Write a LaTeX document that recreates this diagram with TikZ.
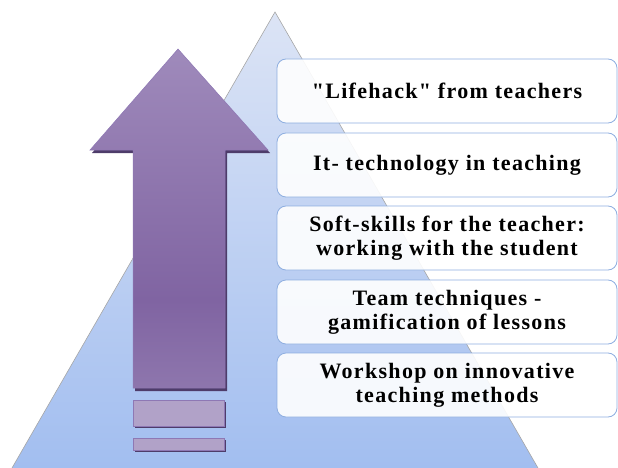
\documentclass[tikz,border=0pt]{standalone}
\usepackage{fontspec}
\newfontfamily\stagefont{Liberation Serif}[LetterSpace=6]
\usepackage{tikz}

\definecolor{pyrtop}{HTML}{DCE4F5}
\definecolor{pyrbot}{HTML}{A2BEF0}
\definecolor{arrtop}{HTML}{B4A4CC}
\definecolor{arrmid}{HTML}{8064A2}
\definecolor{arrbot}{HTML}{A898C2}
\definecolor{arrline}{HTML}{8E78B4}
\definecolor{arrshadow}{HTML}{4E3C6A}
\definecolor{boxline}{HTML}{8EAEE0}

\pgfdeclareverticalshading{arrowshade}{100bp}{color(0bp)=(arrbot); color(38bp)=(arrmid);
  color(100bp)=(arrtop)}

\tikzset{
  stage/.style={draw=boxline, line width=0.8pt, fill=white, fill opacity=0.9,
    text opacity=1, rounded corners=9pt, minimum width=340pt, minimum height=64pt,
    align=center, font=\stagefont\fontsize{22}{24}\selectfont\bfseries, inner sep=0pt},
  bar/.style={fill=arrbot!90!white, draw=arrline, line width=0.6pt}
}

\begin{document}
\begin{tikzpicture}[x=1pt,y=-1pt]
\useasboundingbox (0,0) rectangle (618,468);

% pyramid
\shade[top color=pyrtop, bottom color=pyrbot] (275,12) -- (538,468) -- (12,468) -- cycle;
\draw[gray!70, line width=0.6pt] (12,468) -- (275,12) -- (538,468);

% arrow with shadow
\fill[arrshadow] (180,52) -- (270,153) -- (227,153) -- (227,391) -- (135,391)
  -- (135,153) -- (92,153) -- cycle;
\shade[shading=arrowshade]
  (178,49) -- (268,150) -- (225,150) -- (225,388) -- (133,388) -- (133,150)
  -- (90,150) -- cycle;
\draw[arrline, line width=0.5pt] (178,49) -- (268,150) -- (225,150) -- (225,388)
  -- (133,388) -- (133,150) -- (90,150) -- cycle;

% bars under the arrow
\foreach \ya/\yb in {400/426, 438/450} {
    \fill[arrshadow] (135,\ya+2) rectangle (226,\yb+2);
    \draw[bar] (133,\ya) rectangle (224,\yb);
}

% stages
\node[stage] (lifehack) at (447,91) {"Lifehack" from teachers};
\node[stage] (ittech) at (447,165) {It- technology in teaching};
\node[stage] (softskills) at (447,238) {Soft-skills for the teacher:\\working with the student};
\node[stage] (team) at (447,312) {Team techniques -\\gamification of lessons};
\node[stage] (workshop) at (447,385) {Workshop on innovative\\teaching methods};
\end{tikzpicture}
\end{document}
